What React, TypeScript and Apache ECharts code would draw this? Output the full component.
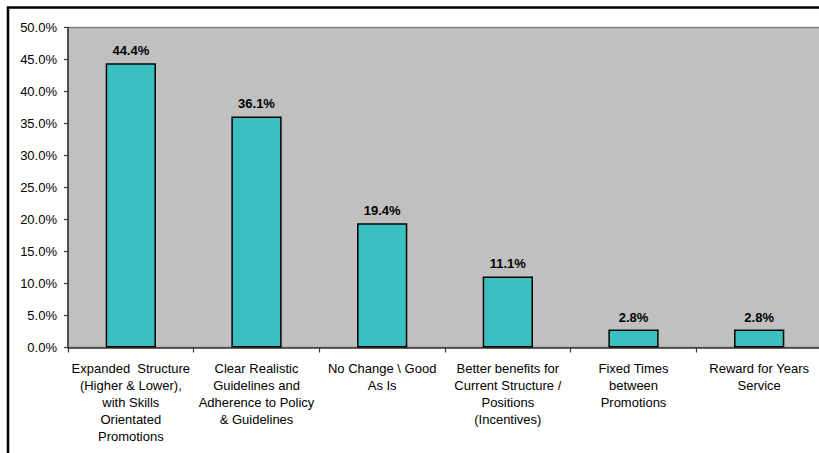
import React, { useEffect, useRef } from "react";
import * as echarts from "echarts";

const categories = [
  "Expanded  Structure\n(Higher & Lower),\nwith Skills\nOrientated\nPromotions",
  "Clear Realistic\nGuidelines and\nAdherence to Policy\n& Guidelines",
  "No Change \\ Good\nAs Is",
  "Better benefits for\nCurrent Structure /\nPositions\n(Incentives)",
  "Fixed Times\nbetween\nPromotions",
  "Reward for Years\nService",
];
const values = [44.4, 36.1, 19.4, 11.1, 2.8, 2.8];
const yMin = 0;
const yMax = 50;
const yStep = 5;

const FONT = "'Liberation Sans', Arial, sans-serif";
const CHART_W = 840;

export default function App() {
  const ref = useRef<HTMLDivElement>(null);
  useEffect(() => {
    if (!ref.current) return;
    const chart = echarts.init(ref.current, null, { renderer: "svg" });
    chart.setOption({
      animation: false,
      backgroundColor: "#ffffff",
      textStyle: { fontFamily: FONT },
      graphic: [
        {
          type: "rect",
          shape: { x: 8, y: 7.5, width: 1000, height: 600 },
          style: { fill: "none", stroke: "#000", lineWidth: 2.5 },
          silent: true,
          z: 100,
        },
      ],
      grid: {
        left: 68,
        top: 27.5,
        right: CHART_W - 822,
        bottom: 453 - 347.5,
        show: true,
        backgroundColor: "#C0C0C0",
        borderColor: "#7f7f7f",
        borderWidth: 1.5,
        containLabel: false,
      },
      xAxis: {
        type: "category",
        data: categories,
        boundaryGap: true,
        axisLine: { show: true, lineStyle: { color: "#3a3a3a", width: 1.5 } },
        axisTick: { show: true, length: 5, lineStyle: { color: "#3a3a3a", width: 1.2 } },
        axisLabel: {
          interval: 0,
          fontSize: 13,
          lineHeight: 17.2,
          margin: 12,
          color: "#000",
          fontFamily: FONT,
          align: "center",
        },
        splitLine: { show: false },
      },
      yAxis: {
        type: "value",
        min: yMin,
        max: yMax,
        interval: yStep,
        axisLine: { show: true, lineStyle: { color: "#3a3a3a", width: 1.5 } },
        axisTick: { show: true, length: 4, lineStyle: { color: "#3a3a3a", width: 1.2 } },
        axisLabel: {
          formatter: (v: number) => v.toFixed(1) + "%",
          fontSize: 13,
          margin: 11,
          color: "#000",
          fontFamily: FONT,
        },
        splitLine: { show: false },
      },
      series: [
        {
          type: "bar",
          data: values,
          barWidth: "40%",
          itemStyle: { color: "#3AC0C0", borderColor: "#000", borderWidth: 1.5 },
          label: {
            show: true,
            position: "top",
            distance: 6,
            formatter: (p: any) => p.value.toFixed(1) + "%",
            fontSize: 13,
            fontWeight: "bold",
            color: "#000",
            fontFamily: FONT,
          },
        },
      ],
    });
    return () => chart.dispose();
  }, []);
  return (
    <div
      style={{
        position: "absolute",
        left: 0,
        top: 0,
        width: 819,
        height: 453,
        overflow: "hidden",
      }}
    >
      <div ref={ref} style={{ width: CHART_W, height: 453 }} />
    </div>
  );
}
